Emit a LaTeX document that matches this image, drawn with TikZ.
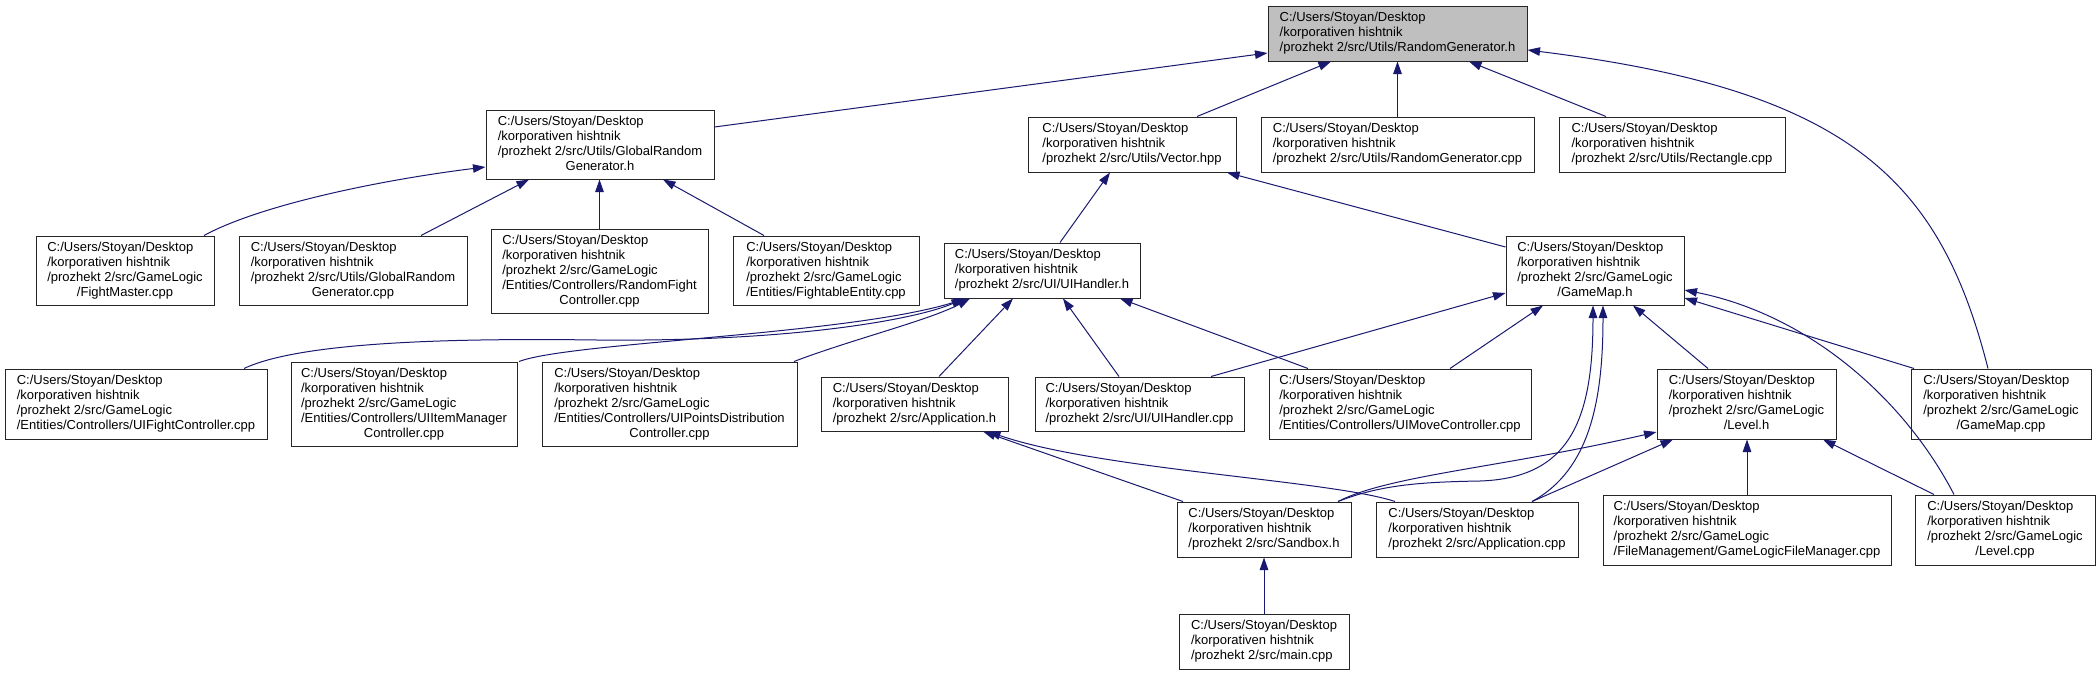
\documentclass[tikz,border=0pt]{standalone}
\usepackage{fontspec}
\setmainfont{Liberation Sans}
\usetikzlibrary{arrows.meta}
\definecolor{edgeblue}{HTML}{191970}
\definecolor{rootgray}{HTML}{BFBFBF}
\newcommand\Hd{C:/Users/Stoyan/Desktop\\{}/korporativen hishtnik\\{}}
\newcommand\Cl[1]{\multicolumn{1}{@{}c@{}}{#1}}
\newcommand\Dbox[7][]{%
  \node[filebox,#1,minimum width={(#5-#3)*1pt},minimum height={(#6-#4)*1pt}]
    (#2) at ({(#3+#5)/2},{(#4+#6)/2}) {\begin{tabular}{@{}l@{}}#7\end{tabular}};}
\tikzset{
  filebox/.style={draw=black!85, line width=1pt, fill=white, inner sep=0pt,
    font=\fontsize{13}{15}\selectfont},
  rootbox/.style={fill=rootgray},
  dep/.style={draw=edgeblue, line width=1pt, -{Triangle[length=12.5pt,width=8.5pt]}}
}
\begin{document}
\begin{tikzpicture}[x=1pt,y=-1pt]
\fill[white] (0,0) rectangle (2099,675);
\useasboundingbox (0,0) rectangle (2099,675);

\Dbox[rootbox]{rgh}{1268}{6}{1527}{61}{\Hd/prozhekt 2/src/Utils/RandomGenerator.h}
\Dbox{grgh}{486}{110}{714}{179}{\Hd/prozhekt 2/src/Utils/GlobalRandom\\\Cl{Generator.h}}
\Dbox{vec}{1028}{117}{1236}{172}{\Hd/prozhekt 2/src/Utils/Vector.hpp}
\Dbox{rgcpp}{1261}{117}{1534}{172}{\Hd/prozhekt 2/src/Utils/RandomGenerator.cpp}
\Dbox{rect}{1559}{117}{1785}{172}{\Hd/prozhekt 2/src/Utils/Rectangle.cpp}
\Dbox{fm}{36}{236}{214}{305}{\Hd/prozhekt 2/src/GameLogic\\\Cl{/FightMaster.cpp}}
\Dbox{grgcpp}{239}{236}{467}{305}{\Hd/prozhekt 2/src/Utils/GlobalRandom\\\Cl{Generator.cpp}}
\Dbox{rfc}{491}{229}{708}{313}{\Hd/prozhekt 2/src/GameLogic\\{}/Entities/Controllers/RandomFight\\\Cl{Controller.cpp}}
\Dbox{fe}{733}{236}{919}{305}{\Hd/prozhekt 2/src/GameLogic\\{}/Entities/FightableEntity.cpp}
\Dbox{uih}{944}{243}{1140}{298}{\Hd/prozhekt 2/src/UI/UIHandler.h}
\Dbox{gmh}{1506}{236}{1684}{305}{\Hd/prozhekt 2/src/GameLogic\\\Cl{/GameMap.h}}
\Dbox{uifc}{5}{369}{267}{439}{\Hd/prozhekt 2/src/GameLogic\\{}/Entities/Controllers/UIFightController.cpp}
\Dbox{uiim}{291}{362}{517}{446}{\Hd/prozhekt 2/src/GameLogic\\{}/Entities/Controllers/UIItemManager\\\Cl{Controller.cpp}}
\Dbox{uipd}{542}{362}{797}{446}{\Hd/prozhekt 2/src/GameLogic\\{}/Entities/Controllers/UIPointsDistribution\\\Cl{Controller.cpp}}
\Dbox{apph}{821}{377}{1008}{431}{\Hd/prozhekt 2/src/Application.h}
\Dbox{uihcpp}{1035}{377}{1244}{431}{\Hd/prozhekt 2/src/UI/UIHandler.cpp}
\Dbox{uimc}{1269}{369}{1531}{439}{\Hd/prozhekt 2/src/GameLogic\\{}/Entities/Controllers/UIMoveController.cpp}
\Dbox{lvlh}{1657}{369}{1836}{439}{\Hd/prozhekt 2/src/GameLogic\\\Cl{/Level.h}}
\Dbox{gmcpp}{1911}{369}{2091}{439}{\Hd/prozhekt 2/src/GameLogic\\\Cl{/GameMap.cpp}}
\Dbox{sbh}{1177}{502}{1351}{557}{\Hd/prozhekt 2/src/Sandbox.h}
\Dbox{appcpp}{1376}{502}{1578}{557}{\Hd/prozhekt 2/src/Application.cpp}
\Dbox{glfm}{1603}{495}{1891}{565}{\Hd/prozhekt 2/src/GameLogic\\{}/FileManagement/GameLogicFileManager.cpp}
\Dbox{lvlcpp}{1915}{495}{2095}{565}{\Hd/prozhekt 2/src/GameLogic\\\Cl{/Level.cpp}}
\Dbox{main}{1179}{614}{1349}{669}{\Hd/prozhekt 2/src/main.cpp}

% edges into RandomGenerator.h
\draw[dep] (grgh.east |- 0,127) -- (rgh.west |- 0,53);
\draw[dep] (1197,0 |- vec.north) -- (1331,0 |- rgh.south);
\draw[dep] (rgcpp.north) -- (rgcpp.north |- rgh.south);
\draw[dep] (1606,0 |- rect.north) -- (1469,0 |- rgh.south);
\draw[dep] (1988,0 |- gmcpp.north) .. controls (1940,180) and (1850,90) .. (rgh.east |- 0,50);
% edges into GlobalRandomGenerator.h
\draw[dep] (204,0 |- fm.north) .. controls (260,205) and (380,180) .. (grgh.west |- 0,167);
\draw[dep] (421,0 |- grgcpp.north) -- (529,0 |- grgh.south);
\draw[dep] (rfc.north) -- (rfc.north |- grgh.south);
\draw[dep] (764,0 |- fe.north) -- (663,0 |- grgh.south);
% edges into Vector.hpp
\draw[dep] (1060,0 |- uih.north) -- (1110,0 |- vec.south);
\draw[dep] (gmh.west |- 0,247) -- (1227,0 |- vec.south);
% edges into UIHandler.h
\draw[dep] (244,0 |- uifc.north) .. controls (300,342) and (450,338) .. (597,340) .. controls (800,342) and (920,318) .. (964,0 |- uih.south);
\draw[dep] (519,0 |- uiim.north) .. controls (570,342) and (850,335) .. (966,0 |- uih.south);
\draw[dep] (794,0 |- uipd.north) .. controls (850,340) and (930,320) .. (970,0 |- uih.south);
\draw[dep] (939,0 |- apph.north) -- (1013,0 |- uih.south);
\draw[dep] (1119,0 |- uihcpp.north) -- (1063,0 |- uih.south);
\draw[dep] (1308,0 |- uimc.north) -- (1120,0 |- uih.south);
% edges into GameMap.h
\draw[dep] (1211,0 |- uihcpp.north) -- (gmh.west |- 0,293);
\draw[dep] (1450,0 |- uimc.north) -- (1543,0 |- gmh.south);
\draw[dep] (1338,0 |- sbh.north) .. controls (1380,485) and (1420,482) .. (1480,481) .. controls (1570,478) and (1593,420) .. (1593,0 |- gmh.south);
\draw[dep] (1532,0 |- appcpp.north) .. controls (1590,470) and (1603,400) .. (1603,0 |- gmh.south);
\draw[dep] (1708,0 |- lvlh.north) -- (1633,0 |- gmh.south);
\draw[dep] (1914,0 |- gmcpp.north) -- (gmh.east |- 0,298);
\draw[dep] (1954,0 |- lvlcpp.north) .. controls (1905,400) and (1810,315) .. (gmh.east |- 0,290);
% edges into Level.h
\draw[dep] (1338,0 |- sbh.north) .. controls (1390,475) and (1500,468) .. (lvlh.west |- 0,432);
\draw[dep] (1532,0 |- appcpp.north) -- (1673,0 |- lvlh.south);
\draw[dep] (glfm.north) -- (glfm.north |- lvlh.south);
\draw[dep] (1934,0 |- lvlcpp.north) -- (1823,0 |- lvlh.south);
% edges into Application.h
\draw[dep] (1183,0 |- sbh.north) -- (983,0 |- apph.south);
\draw[dep] (1395,0 |- appcpp.north) .. controls (1330,480) and (1100,470) .. (988,0 |- apph.south);
% edge into Sandbox.h
\draw[dep] (1264,0 |- main.north) -- (1264,0 |- sbh.south);
\end{tikzpicture}
\end{document}
